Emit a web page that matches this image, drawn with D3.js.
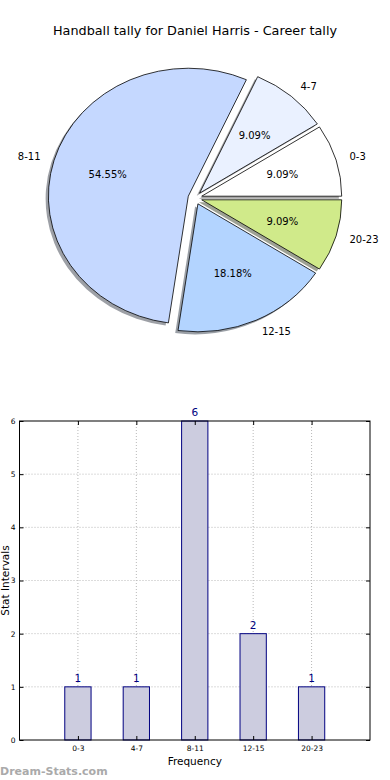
<!DOCTYPE html>
<html>
<head>
<meta charset="utf-8">
<script src="https://cdn.jsdelivr.net/npm/d3@7"></script>
<style>
  body { margin: 0; background: #fff; }
  svg { display: block; font-family: "DejaVu Sans", sans-serif; }
</style>
</head>
<body>
<svg id="chart" width="390" height="780"></svg>
<script>
// chart data
const title = "Handball tally for Daniel Harris - Career tally";
const categories = ["0-3", "4-7", "8-11", "12-15", "20-23"];
const counts = [1, 1, 6, 2, 1];
const sliceColors = ["#ffffff", "#eaf1ff", "#c5d8ff", "#b3d4ff", "#d0ea8a"];
const yTicks = [0, 1, 2, 3, 4, 5, 6];

const svg = d3.select("#chart");

svg.append("text")
  .attr("x", 195).attr("y", 35)
  .attr("text-anchor", "middle")
  .style("font-size", "12.8px")
  .text(title);

// pie: matplotlib style, starts at 3 o'clock and runs counter-clockwise,
// squashed into an ellipse because the axes are not square
const cx = 195, cy = 198, rx = 140, ry = 128, explode = 0.05;
const total = d3.sum(counts);

const pie = d3.pie().sort(null)
  .startAngle(Math.PI / 2)
  .endAngle(Math.PI / 2 - 2 * Math.PI);
const arcs = pie(counts);
const unitArc = d3.arc().innerRadius(0).outerRadius(1);

// mid angle in screen terms (0 = right, y down)
function mid(d) {
  const a = (d.startAngle + d.endAngle) / 2;
  return { x: Math.sin(a), y: -Math.cos(a) };
}

const pieG = svg.append("g");

// shadows behind everything
pieG.selectAll("path.shadow")
  .data(arcs)
  .join("path")
  .attr("class", "shadow")
  .attr("d", unitArc)
  .attr("transform", d => {
    const m = mid(d);
    const ox = cx + m.x * explode * rx - 0.02 * rx;
    const oy = cy + m.y * explode * ry + 0.02 * ry;
    return `translate(${ox},${oy}) scale(${rx},${ry})`;
  })
  .attr("fill", (d, i) => {
    const c = d3.rgb(sliceColors[i]);
    return d3.rgb(c.r * 0.3, c.g * 0.3, c.b * 0.3);
  })
  .attr("fill-opacity", 0.5);

pieG.selectAll("path.slice")
  .data(arcs)
  .join("path")
  .attr("class", "slice")
  .attr("d", unitArc)
  .attr("transform", d => {
    const m = mid(d);
    return `translate(${cx + m.x * explode * rx},${cy + m.y * explode * ry}) scale(${rx},${ry})`;
  })
  .attr("fill", (d, i) => sliceColors[i])
  .attr("stroke", "#000")
  .attr("stroke-width", 0.8)
  .attr("vector-effect", "non-scaling-stroke");

// category labels outside
pieG.selectAll("text.cat")
  .data(arcs)
  .join("text")
  .attr("class", "cat")
  .attr("x", d => cx + mid(d).x * (explode + 1.1) * rx)
  .attr("y", d => cy + mid(d).y * (explode + 1.1) * ry)
  .attr("dy", "0.35em")
  .attr("text-anchor", d => mid(d).x > 0 ? "start" : "end")
  .style("font-size", "10px")
  .text((d, i) => categories[i]);

// percentages inside
pieG.selectAll("text.pct")
  .data(arcs)
  .join("text")
  .attr("class", "pct")
  .attr("x", d => cx + mid(d).x * (explode + 0.6) * rx)
  .attr("y", d => cy + mid(d).y * (explode + 0.6) * ry)
  .attr("dy", "0.35em")
  .attr("text-anchor", "middle")
  .style("font-size", "10px")
  .text(d => (d.value / total * 100).toFixed(2) + "%");

// bar chart
const plotLeft = 19.5, plotRight = 370, plotTop = 421, plotBottom = 740;
const x = d3.scaleLinear().domain([-1, 5]).range([plotLeft, plotRight]);
const y = d3.scaleLinear().domain([0, 6]).range([plotBottom, plotTop]);
const barW = x(0.45) - x(0);

const barG = svg.append("g");

// dotted grid
barG.selectAll("line.hgrid")
  .data(yTicks.slice(1, -1))
  .join("line")
  .attr("x1", plotLeft).attr("x2", plotRight)
  .attr("y1", d => y(d)).attr("y2", d => y(d))
  .attr("stroke", "#b8b8b8")
  .attr("stroke-dasharray", "1,2");

barG.selectAll("line.vgrid")
  .data(categories)
  .join("line")
  .attr("x1", (d, i) => x(i)).attr("x2", (d, i) => x(i))
  .attr("y1", plotTop).attr("y2", plotBottom)
  .attr("stroke", "#b8b8b8")
  .attr("stroke-dasharray", "1,2");

barG.selectAll("rect.bar")
  .data(counts)
  .join("rect")
  .attr("x", (d, i) => x(i) - barW / 2)
  .attr("y", d => y(d))
  .attr("width", barW)
  .attr("height", d => y(0) - y(d))
  .attr("fill", "#ccccdf")
  .attr("stroke", "#000080")
  .attr("stroke-width", 1);

barG.selectAll("text.val")
  .data(counts)
  .join("text")
  .attr("x", (d, i) => x(i))
  .attr("y", d => y(d) - 5)
  .attr("text-anchor", "middle")
  .attr("fill", "#000080")
  .style("font-size", "10.5px")
  .text(d => d);

// axes frame
barG.append("rect")
  .attr("x", plotLeft).attr("y", plotTop)
  .attr("width", plotRight - plotLeft).attr("height", plotBottom - plotTop)
  .attr("fill", "none")
  .attr("stroke", "#000")
  .attr("stroke-width", 1);

// ticks point inward, matplotlib style
const yAxis = d3.axisLeft(y).tickValues(yTicks).tickFormat(d3.format("d"))
  .tickSize(-4).tickPadding(4);
barG.append("g")
  .attr("transform", `translate(${plotLeft},0)`)
  .call(yAxis)
  .call(g => g.select(".domain").remove())
  .call(g => g.selectAll("text").style("font-size", "7.5px").style("font-family", "DejaVu Sans"));

const yAxisR = d3.axisRight(y).tickValues(yTicks).tickSize(-4).tickFormat("");
barG.append("g")
  .attr("transform", `translate(${plotRight},0)`)
  .call(yAxisR)
  .call(g => g.select(".domain").remove());

const xAxis = d3.axisBottom(x).tickValues(d3.range(categories.length))
  .tickFormat(i => categories[i]).tickSize(-4).tickPadding(6);
barG.append("g")
  .attr("transform", `translate(0,${plotBottom})`)
  .call(xAxis)
  .call(g => g.select(".domain").remove())
  .call(g => g.selectAll("text").style("font-size", "7.5px").style("font-family", "DejaVu Sans"));

const xAxisT = d3.axisTop(x).tickValues(d3.range(categories.length))
  .tickSize(-4).tickFormat("");
barG.append("g")
  .attr("transform", `translate(0,${plotTop})`)
  .call(xAxisT)
  .call(g => g.select(".domain").remove());

svg.append("text")
  .attr("x", (plotLeft + plotRight) / 2).attr("y", 765)
  .attr("text-anchor", "middle")
  .style("font-size", "10.5px")
  .text("Frequency");

svg.append("text")
  .attr("transform", `translate(9,${(plotTop + plotBottom) / 2}) rotate(-90)`)
  .attr("text-anchor", "middle")
  .style("font-size", "10.5px")
  .text("Stat Intervals");

svg.append("text")
  .attr("x", 0).attr("y", 775)
  .attr("fill", "#aaaaaa")
  .style("font-size", "11px")
  .style("font-weight", "bold")
  .text("Dream-Stats.com");
</script>
</body>
</html>
